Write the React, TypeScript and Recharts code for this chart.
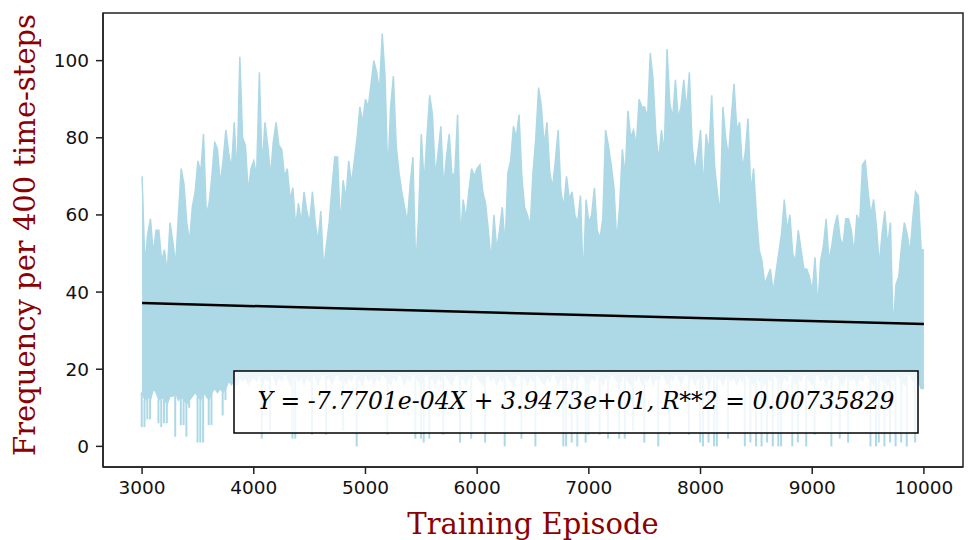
import { ComposedChart, Area, Bar, XAxis, YAxis, ReferenceLine } from 'recharts';

// episode grid: first episode and spacing of the sampled trace
const START_EPISODE = 3000;
const EPISODE_STEP = 25;

// upper edge of the frequency trace, one value per 25 episodes (3000..10000)
const upperValues = [
  70, 47, 55, 59, 50, 56, 56, 48, 51, 45, 58, 53, 47, 60, 72, 68, 58, 53, 62, 66, // 3000
  74, 71, 81, 60, 63, 70, 79, 77, 68, 74, 82, 76, 72, 84, 70, 101, 80, 78, 66, 72, // 3500
  74, 70, 97, 72, 84, 78, 70, 79, 84, 78, 77, 70, 72, 64, 67, 57, 63, 58, 66, 61, // 4000
  58, 66, 58, 53, 61, 46, 52, 58, 67, 75, 75, 57, 69, 64, 74, 68, 74, 80, 88, 84, // 4500
  90, 88, 94, 100, 97, 92, 107, 96, 70, 88, 96, 78, 71, 66, 62, 58, 68, 75, 46, 59, // 5000
  81, 68, 80, 91, 86, 70, 76, 83, 67, 75, 81, 70, 71, 86, 54, 64, 59, 66, 72, 70, // 5500
  72, 73, 66, 63, 56, 48, 60, 51, 56, 62, 52, 71, 74, 83, 80, 86, 70, 62, 60, 57, // 6000
  71, 80, 93, 88, 78, 84, 71, 67, 74, 82, 66, 62, 70, 64, 66, 60, 58, 65, 43, 64, // 6500
  58, 60, 67, 56, 54, 59, 82, 78, 73, 67, 53, 62, 77, 70, 87, 80, 82, 78, 90, 88, // 7000
  88, 85, 102, 95, 81, 74, 82, 76, 103, 89, 85, 95, 85, 88, 95, 87, 97, 78, 71, 76, // 7500
  82, 67, 81, 76, 91, 73, 66, 60, 88, 80, 75, 85, 94, 82, 84, 72, 76, 85, 66, 72, // 8000
  60, 51, 48, 42, 44, 46, 40, 45, 50, 55, 64, 56, 60, 50, 48, 56, 51, 46, 46, 44, // 8500
  40, 49, 36, 48, 52, 59, 48, 52, 57, 60, 54, 52, 59, 59, 56, 50, 60, 58, 73, 74, // 9000
  66, 60, 64, 57, 47, 55, 61, 52, 58, 30, 42, 44, 52, 58, 55, 50, 59, 66, 65, 51, // 9500
  51, // 10000
];

// lower edge of the dense body of the trace
const lowerValues = [
  14, 12, 13, 12, 15, 14, 12, 13, 12, 11, 13, 13, 14, 12, 13, 12, 11, 12, 13, 14, // 3000
  13, 12, 14, 13, 12, 14, 15, 14, 15, 14, 15, 17, 16, 17, 16, 18, 17, 18, 16, 17, // 3500
  18, 17, 19, 16, 18, 17, 19, 18, 16, 18, 17, 19, 18, 16, 18, 19, 17, 18, 16, 18, // 4000
  17, 19, 18, 16, 18, 19, 17, 18, 16, 18, 19, 17, 18, 16, 18, 17, 19, 18, 17, 16, // 4500
  19, 17, 18, 16, 18, 17, 19, 18, 17, 16, 18, 17, 19, 18, 16, 18, 17, 19, 18, 17, // 5000
  16, 18, 19, 17, 18, 16, 18, 17, 19, 18, 17, 16, 18, 19, 17, 18, 16, 18, 17, 19, // 5500
  18, 17, 16, 18, 19, 17, 18, 16, 18, 17, 19, 18, 17, 16, 18, 19, 17, 18, 16, 18, // 6000
  17, 19, 18, 17, 16, 18, 17, 19, 18, 16, 18, 17, 19, 18, 16, 18, 17, 19, 18, 17, // 6500
  16, 18, 17, 19, 18, 16, 18, 17, 19, 18, 17, 16, 18, 19, 17, 16, 18, 17, 19, 16, // 7000
  18, 17, 19, 16, 18, 17, 19, 18, 16, 18, 17, 19, 18, 16, 18, 19, 17, 18, 16, 18, // 7500
  17, 19, 18, 16, 18, 19, 17, 18, 16, 18, 19, 17, 18, 16, 18, 17, 19, 18, 17, 16, // 8000
  19, 17, 18, 16, 18, 17, 19, 18, 17, 16, 18, 17, 19, 18, 16, 18, 17, 19, 18, 17, // 8500
  16, 18, 19, 17, 18, 16, 18, 17, 19, 18, 17, 16, 18, 19, 17, 18, 16, 18, 17, 19, // 9000
  18, 17, 16, 18, 19, 17, 18, 16, 18, 17, 19, 18, 17, 16, 18, 19, 17, 18, 17, 15, // 9500
  15, // 10000
];

// isolated deep drops below the dense body
const dipEpisodes = [
  3000, 3025, 3050, 3075, 3150, 3175, 3200, 3225, 3300, 3350, 3375, 3400, 3425, 3500, 3525, 3550,
  3600, 3625, 3725, 3750, 4075, 4150, 4350, 4375, 4525, 4650, 4800, 4925, 5200, 5450, 5500, 5525,
  5575, 5700, 5850, 5950, 6075, 6250, 6400, 6525, 6775, 6800, 6850, 6900, 6975, 7000, 7100, 7175,
  7275, 7325, 7400, 7500, 7625, 7725, 7900, 8000, 8025, 8075, 8125, 8150, 8250, 8400, 8450, 8500,
  8550, 8600, 8650, 8700, 8725, 8825, 8875, 8950, 9025, 9175, 9250, 9325, 9525, 9575, 9600, 9650,
  9700, 9750, 9800, 9850, 9925,
];
const dipValues = [
  5, 5, 7, 7, 6, 5, 6, 6, 2.5, 5.5, 5.5, 2.5, 10, 1, 1, 1,
  5.5, 5.5, 8, 12, 2, 4, 2, 2, 3, 3, 4, 0, 3, 2, 2, 1,
  2, 3, 1, 2, 1, 0, 2, 0, 0, 0, 1, 0, 1, 3, 3, 2,
  2, 2, 4, 1, 0, 3, 3, 1, 0, 1, 0, 0, 2, 0, 1, 0,
  0, 1, 0, 0, 0, 0, 1, 0, 3, 0, 2, 1, 0, 0, 1, 0,
  1, 0, 1, 0, 1,
];

// linear fit shown in the text box
const fitEpisodes = [3000, 10000];
const fitValues = [37.142, 31.703];

const xTicks = [3000, 4000, 5000, 6000, 7000, 8000, 9000, 10000];
const yTicks = [0, 20, 40, 60, 80, 100];

const fitLabel = 'Y = -7.7701e-04X + 3.9473e+01, R**2 = 0.00735829';

const dipByEpisode = new Map(dipEpisodes.map((ep, i) => [ep, dipValues[i]]));

const chartData = upperValues.map((high, i) => {
  const episode = START_EPISODE + i * EPISODE_STEP;
  const dip = dipByEpisode.get(episode);
  return {
    episode,
    range: [lowerValues[i], high],
    dip: dip === undefined ? null : [dip, lowerValues[i]],
  };
});

const tickStyle = { fontFamily: 'DejaVu Sans', fontSize: 18.5, fill: '#111' };

export default function App() {
  return (
    <div style={{ position: 'absolute', left: 0, top: 0, width: 970, height: 540, background: '#fff' }}>
      <ComposedChart
        width={970}
        height={540}
        data={chartData}
        margin={{ top: 13, right: 7, left: 43, bottom: 33 }}
      >
        <XAxis
          dataKey="episode"
          type="number"
          domain={[2650, 10350]}
          ticks={xTicks}
          allowDataOverflow
          height={40}
          tick={tickStyle}
          tickSize={7}
          tickMargin={7}
          stroke="#222"
          strokeWidth={1.5}
        />
        <YAxis
          type="number"
          domain={[-5.35, 112.35]}
          ticks={yTicks}
          allowDataOverflow
          width={60}
          tick={tickStyle}
          tickSize={7}
          tickMargin={7}
          stroke="#222"
          strokeWidth={1.5}
        />
        <Area
          type="linear"
          dataKey="range"
          stroke="#ADD8E6"
          strokeWidth={1.5}
          fill="#ADD8E6"
          fillOpacity={1}
          dot={false}
          activeDot={false}
          isAnimationActive={false}
        />
        <Bar dataKey="dip" fill="#ADD8E6" barSize={2} isAnimationActive={false} />
        <ReferenceLine
          segment={[
            { x: fitEpisodes[0], y: fitValues[0] },
            { x: fitEpisodes[1], y: fitValues[1] },
          ]}
          stroke="#000"
          strokeWidth={2.5}
        />
      </ComposedChart>

      <svg
        width={970}
        height={540}
        style={{ position: 'absolute', left: 0, top: 0, pointerEvents: 'none' }}
      >
        <rect x={103} y={13} width={860} height={454} fill="none" stroke="#222" strokeWidth={1.5} />
        <rect x={234} y={371} width={684} height={62} fill="#fff" fillOpacity={0.8} stroke="#000" strokeWidth={1.5} />
        <text
          x={576}
          y={409}
          textAnchor="middle"
          fontFamily="DejaVu Serif"
          fontStyle="italic"
          fontSize={23.5}
          fill="#000"
        >
          {fitLabel}
        </text>
        <text
          x={533}
          y={534}
          textAnchor="middle"
          fontFamily="DejaVu Serif"
          fontSize={29}
          fill="#8B0000"
        >
          Training Episode
        </text>
        <text
          x={35}
          y={235}
          textAnchor="middle"
          transform="rotate(-90 35 235)"
          fontFamily="DejaVu Serif"
          fontSize={29}
          fill="#8B0000"
        >
          Frequency per 400 time-steps
        </text>
      </svg>
    </div>
  );
}
